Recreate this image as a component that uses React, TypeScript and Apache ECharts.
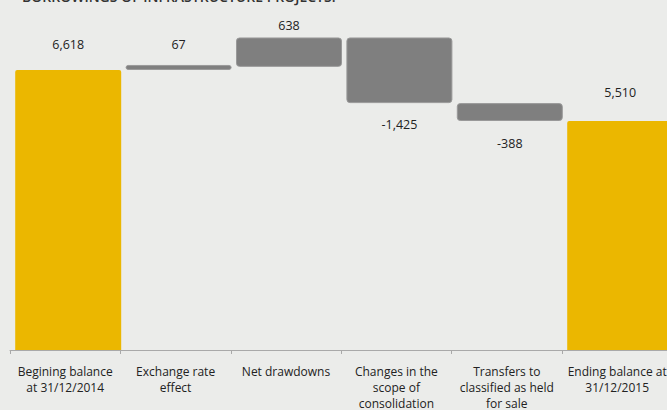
import React, { useEffect, useRef } from "react";
import * as echarts from "echarts";

const categories = [
  "Begining balance\nat 31/12/2014",
  "Exchange rate\neffect",
  "Net drawdowns",
  "Changes in the\nscope of\nconsolidation",
  "Transfers to\nclassified as held\nfor sale",
  "Ending balance at\n31/12/2015",
];
const values = [6618, 67, 638, -1425, -388, 5510];
const isTotal = [true, false, false, false, false, true];
const titleText = "BORROWINGS OF INFRASTRUCTURE PROJECTS.";

const BG = "#ebecea";
const YELLOW = "#ebb700";
const GREY = "#7f7f7f";
const FONT = "'Open Sans', sans-serif";

function fmt(v: number) {
  const s = Math.abs(v).toLocaleString("en-US");
  return (v < 0 ? "-" : "") + s;
}

export default function App() {
  const ref = useRef<HTMLDivElement>(null);
  useEffect(() => {
    document.body.style.margin = "0";
    document.body.style.background = BG;
    const chart = echarts.init(ref.current!, null, { renderer: "svg" });

    let running = 0;
    const baseData: any[] = [];
    const totalData: any[] = [];
    const deltaData: any[] = [];
    const labelGap = [19, 14, 5, 15, 16, 22];
    values.forEach((v, i) => {
      if (isTotal[i]) {
        running = v;
        baseData.push("-");
        totalData.push({
          value: v,
          label: { show: true, position: "top", distance: labelGap[i], formatter: fmt(v) },
        });
        deltaData.push("-");
      } else {
        const start = running;
        const end = running + v;
        running = end;
        baseData.push(Math.min(start, end));
        totalData.push("-");
        deltaData.push({
          value: Math.abs(v),
          label: {
            show: true,
            position: v >= 0 ? "top" : "bottom",
            distance: labelGap[i],
            formatter: fmt(v),
          },
        });
      }
    });

    const yMin = 538;
    const yMax = 8000;
    const gridTop = 6.3;
    const gridBottom = 60;
    const gridWidth = 662.4;

    chart.setOption({
      animation: false,
      backgroundColor: BG,
      textStyle: { fontFamily: FONT },
      graphic: [
        {
          type: "text",
          left: 22,
          top: -11,
          style: {
            text: titleText,
            font: `600 14px ${FONT}`,
            fill: "#333",
          },
        },
      ],
      grid: [
        {
          left: 10,
          width: gridWidth,
          top: gridTop,
          bottom: gridBottom,
          containLabel: false,
          outerBoundsMode: "none",
        },
        {
          left: 13,
          width: gridWidth,
          top: gridTop,
          bottom: gridBottom,
          containLabel: false,
          outerBoundsMode: "none",
        },
      ],
      xAxis: [
        {
          type: "category",
          gridIndex: 0,
          data: categories,
          axisLine: { show: true, lineStyle: { color: "#a9a9a9", width: 1 } },
          axisTick: { show: true, length: 4, lineStyle: { color: "#a9a9a9" } },
          axisLabel: {
            interval: 0,
            margin: 13,
            fontSize: 12,
            lineHeight: 16,
            color: "#222",
            fontFamily: FONT,
          },
          z: 10,
        },
        {
          type: "category",
          gridIndex: 1,
          data: categories,
          show: false,
        },
      ],
      yAxis: [
        { type: "value", gridIndex: 0, min: yMin, max: yMax, show: false },
        { type: "value", gridIndex: 1, min: yMin, max: yMax, show: false },
      ],
      series: [
        {
          type: "bar",
          name: "base",
          xAxisIndex: 1,
          yAxisIndex: 1,
          stack: "wf",
          data: baseData,
          itemStyle: { color: "transparent" },
          barCategoryGap: "4%",
          silent: true,
        },
        {
          type: "bar",
          name: "total",
          xAxisIndex: 1,
          yAxisIndex: 1,
          stack: "wf",
          data: totalData,
          itemStyle: { color: YELLOW, borderRadius: [2, 2, 0, 0] },
          label: { color: "#222", fontSize: 12.5, fontFamily: FONT },
          barCategoryGap: "4%",
        },
        {
          type: "bar",
          name: "delta",
          xAxisIndex: 1,
          yAxisIndex: 1,
          stack: "wf",
          data: deltaData,
          barMinHeight: 5,
          itemStyle: {
            color: GREY,
            borderColor: "#999999",
            borderWidth: 1,
            borderRadius: 3,
          },
          label: { color: "#222", fontSize: 12.5, fontFamily: FONT },
          barCategoryGap: "4%",
        },
      ],
    });
    return () => chart.dispose();
  }, []);
  return (
    <div
      ref={ref}
      style={{ position: "fixed", left: 0, top: 0, width: 667, height: 410, background: BG }}
    />
  );
}
